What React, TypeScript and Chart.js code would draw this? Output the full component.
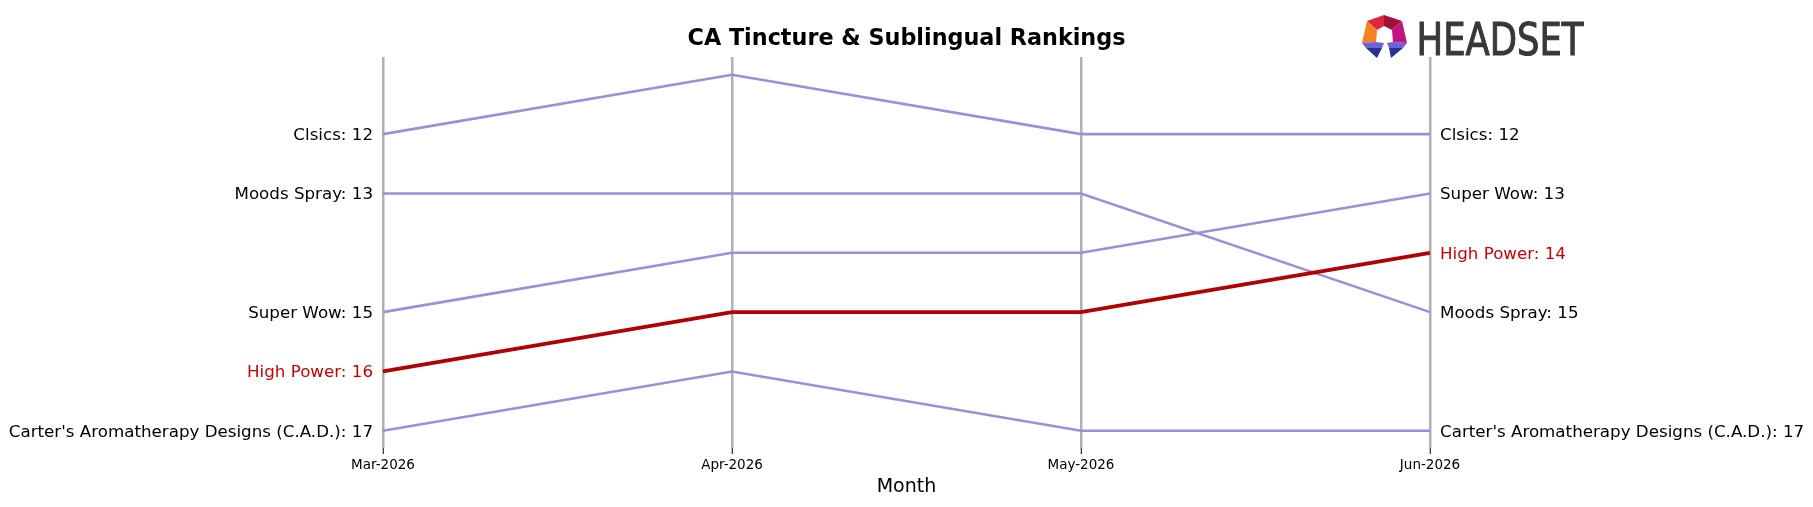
import React, { useEffect, useRef } from 'react';
import { Chart, registerables } from 'chart.js';

Chart.register(...registerables);

const months = ['Mar-2026', 'Apr-2026', 'May-2026', 'Jun-2026'];
const brands = ['Clsics', 'Moods Spray', 'Super Wow', 'High Power', "Carter's Aromatherapy Designs (C.A.D.)"];
const clsics = [12, 11, 12, 12];
const moodsSpray = [13, 13, 13, 15];
const superWow = [15, 14, 14, 13];
const highPower = [16, 15, 15, 14];
const carters = [17, 16, 17, 17];
const seriesValues = [clsics, moodsSpray, superWow, highPower, carters];
const highlightBrand = 'High Power';
const chartTitle = 'CA Tincture & Sublingual Rankings';
const xAxisTitle = 'Month';
const logoText = 'HEADSET';

const PURPLE = '#9b8fdb';
const RED = '#b30000';
const LABEL_RED = '#cc0000';
const FONT = '"DejaVu Sans", sans-serif';

function drawLogo(ctx: CanvasRenderingContext2D) {
  const poly = (pts: number[][], color: string) => {
    ctx.beginPath();
    ctx.moveTo(pts[0][0], pts[0][1]);
    for (let i = 1; i < pts.length; i++) ctx.lineTo(pts[i][0], pts[i][1]);
    ctx.closePath();
    ctx.fillStyle = color;
    ctx.fill();
  };
  const T = [1384, 15], UL = [1367, 21], L = [1362, 43], R = [1407, 43], UR = [1402, 21];
  const iT = [1384, 26], iUL = [1377, 30], iL = [1376, 42], iR = [1393, 42], iUR = [1392, 30];
  poly([UL, T, iT, iUL], '#e0263c');
  poly([T, UR, iUR, iT], '#a0123a');
  poly([UL, iUL, iL, L], '#f58220');
  poly([UR, R, iR, iUR], '#c0157f');
  poly([L, iL, [1384, 43], [1382, 48], [1366, 48]], '#6b63d9');
  poly([[1366, 48], [1382, 48], [1377, 58]], '#2b2f8f');
  poly([R, iR, [1387, 43], [1389, 48], [1403, 48]], '#6b63d9');
  poly([[1389, 48], [1403, 48], [1391, 58]], '#2b2f8f');
  ctx.save();
  ctx.font = `45px ${FONT}`;
  const w = ctx.measureText(logoText).width;
  const targetW = 167;
  ctx.translate(1416.5, 54.5);
  ctx.scale(targetW / w, 1);
  ctx.fillStyle = '#383838';
  ctx.strokeStyle = '#383838';
  ctx.lineWidth = 1.1;
  ctx.textAlign = 'left';
  ctx.textBaseline = 'alphabetic';
  ctx.fillText(logoText, 0, 0);
  ctx.strokeText(logoText, 0, 0);
  ctx.restore();
}

const overlayPlugin = {
  id: 'overlay',
  afterDraw(chart: any) {
    const ctx: CanvasRenderingContext2D = chart.ctx;
    const xs = chart.scales.x;
    const ys = chart.scales.y;
    const area = chart.chartArea;
    ctx.save();
    ctx.font = `bold 22.3px ${FONT}`;
    ctx.fillStyle = '#000';
    ctx.textAlign = 'center';
    ctx.textBaseline = 'middle';
    ctx.fillText(chartTitle, (area.left + area.right) / 2, 39.5);
    ctx.font = `19px ${FONT}`;
    ctx.fillText(xAxisTitle, (area.left + area.right) / 2, 487);
    ctx.font = `16.7px ${FONT}`;
    const lastIdx = months.length - 1;
    brands.forEach((b, i) => {
      const vals = seriesValues[i];
      ctx.fillStyle = b === highlightBrand ? LABEL_RED : '#000';
      ctx.textAlign = 'right';
      ctx.fillText(`${b}: ${vals[0]}`, xs.getPixelForValue(0) - 10, ys.getPixelForValue(vals[0]) + 1.5);
      ctx.textAlign = 'left';
      ctx.fillText(`${b}: ${vals[lastIdx]}`, xs.getPixelForValue(lastIdx) + 10, ys.getPixelForValue(vals[lastIdx]) + 1.5);
    });
    drawLogo(ctx);
    ctx.restore();
  },
};

export default function App() {
  const ref = useRef<HTMLCanvasElement | null>(null);
  useEffect(() => {
    if (!ref.current) return;
    const datasets = brands.map((b, i) => ({
      label: b,
      data: seriesValues[i],
      borderColor: b === highlightBrand ? RED : PURPLE,
      borderWidth: b === highlightBrand ? 3.8 : 2.6,
      pointRadius: 0,
      tension: 0,
      fill: false,
      order: b === highlightBrand ? 0 : 1,
    }));
    const chart = new Chart(ref.current, {
      type: 'line',
      data: { labels: months, datasets },
      options: {
        animation: false,
        responsive: false,
        maintainAspectRatio: false,
        layout: { padding: { left: 383, right: 383, top: 57, bottom: 0 } },
        plugins: {
          legend: { display: false },
          title: { display: false },
          tooltip: { enabled: false },
        },
        scales: {
          x: {
            type: 'category',
            offset: false,
            grid: {
              color: '#b0b0b0',
              lineWidth: 2.5,
              drawOnChartArea: true,
              drawTicks: true,
              tickLength: 6,
              tickColor: '#000',
              tickWidth: 1,
            },
            border: { display: false },
            ticks: {
              color: '#000',
              font: { family: 'DejaVu Sans', size: 13.5 },
              padding: 3,
              maxRotation: 0,
              autoSkip: false,
            },
            afterFit: (s: any) => {
              s.height = 59;
            },
          },
          y: { display: false, reverse: true, min: 10.7, max: 17.29 },
        },
      },
      plugins: [overlayPlugin],
    });
    return () => chart.destroy();
  }, []);
  return (
    <div style={{ position: 'absolute', left: 0, top: 0, width: 1813, height: 507, background: '#fff' }}>
      <canvas ref={ref} width={1813} height={507} style={{ width: 1813, height: 507 }} />
    </div>
  );
}
